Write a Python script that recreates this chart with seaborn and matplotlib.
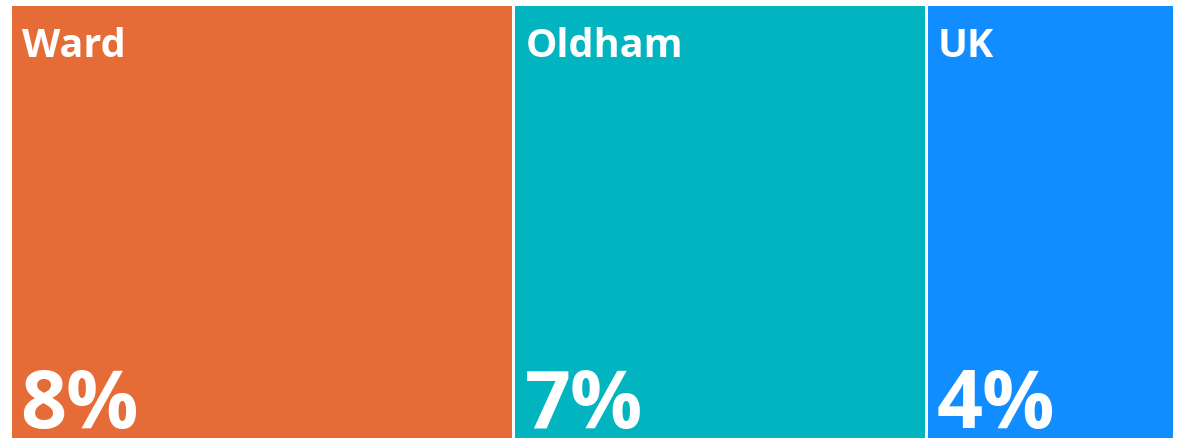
import numpy as np
import matplotlib
matplotlib.use("Agg")
import matplotlib.pyplot as plt
import seaborn as sns

# Data
areas = ["Ward", "Oldham", "UK"]
shares = [8.13, 6.65, 4.0]
colours = ["#E66C37", "#02B4BF", "#118DFF"]

sns.set_theme(style="white")
plt.rcParams['font.family'] = ['Open Sans', 'DejaVu Sans']

fig = plt.figure(figsize=(11.86, 4.39), dpi=100)
ax = fig.add_axes([9.5 / 1186, 0, 1164 / 1186, 1 - 4.5 / 439])

lefts = np.concatenate([[0], np.cumsum(shares)[:-1]])
# bars go below the axes so the bottom edge line is clipped away
ax.bar(lefts, 1.1, bottom=-0.1, width=shares, align="edge", color=colours,
       edgecolor="white", linewidth=2.16)
ax.set_xlim(0, sum(shares))
ax.set_ylim(0, 1)
ax.axis("off")

for left, name, val in zip(lefts, areas, shares):
    ax.annotate(name, xy=(left, 1), xytext=(9, -16), textcoords="offset points",
                ha="left", va="top", color="white", fontsize=28.5, fontweight="bold")
    ax.annotate(f"{val:.0f}%", xy=(left, 0), xytext=(8, 8), textcoords="offset points",
                ha="left", va="baseline", color="white", fontsize=58, fontweight="bold")

fig.savefig("out.png", dpi=100)
